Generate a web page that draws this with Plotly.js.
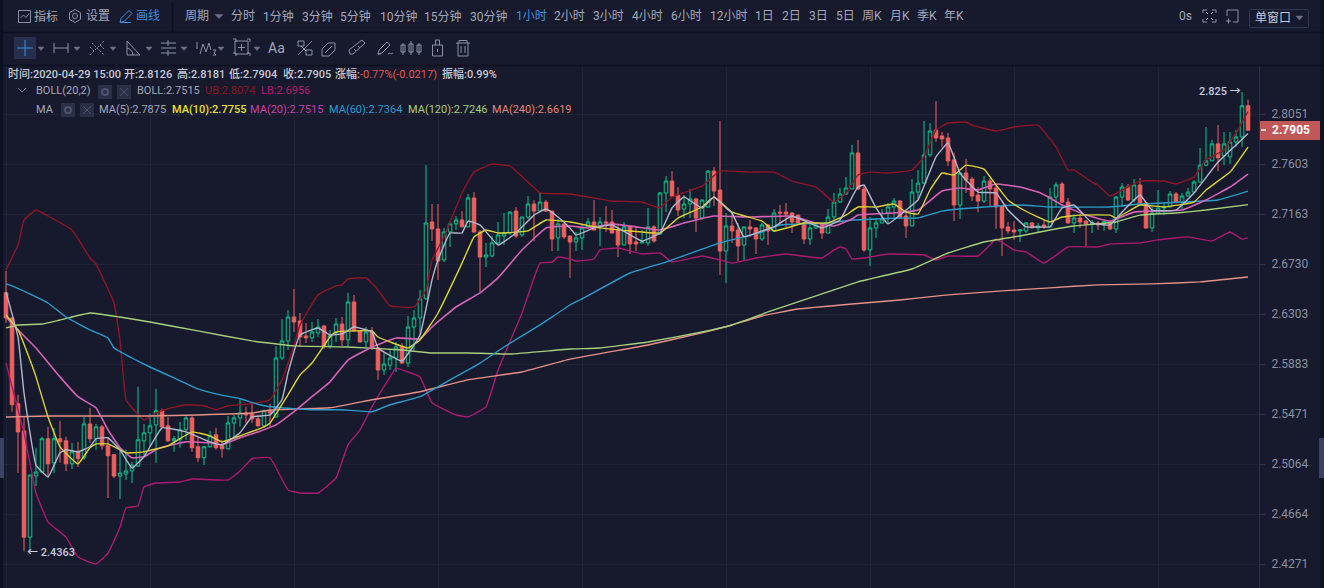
<!DOCTYPE html>
<html><head><meta charset="utf-8">
<script src="https://cdn.plot.ly/plotly-3.0.1.min.js"></script>
<style>html,body{margin:0;padding:0;background:#161a2c;overflow:hidden}#wrap{position:relative;width:1324px;height:588px}#chart{position:absolute;left:0;top:0;width:1324px;height:588px}#ov{position:absolute;left:0;top:0;pointer-events:none}</style>
</head><body><div id="wrap"><div id="chart"></div>
<svg id="ov" width="1324" height="588" fill="none" stroke="#8d91a8" stroke-width="1">
<g stroke="#0d1020"><path d="M0 32.5H1324M0 65.5H1324M172.5 3V32" stroke-width="1.5"/><path d="M1.5 0V588M1322 0V588" stroke-width="3"/></g>
<rect x="14" y="37" width="22" height="22" fill="#262f4d" stroke="none"/>
<path d="M25 40V56M17 48H33" stroke="#3f8fe0"/>
<path d="M18.5 10.5h12v12h-12zM20.5 18l3-3 2.5 2.5 3-4"/>
<path d="M75 9.5l5.5 3.2v6.6L75 22.5l-5.5-3.2v-6.6zM77.5 16a2.5 2.5 0 1 1-5 0 2.5 2.5 0 1 1 5 0"/>
<path d="M120 22.5l1-4 8-8 3 3-8 8zM120 22.5h11" stroke="#3f8fe0"/>
<g stroke="#6d7188" fill="#6d7188" stroke-width="0.5"><path d="M215 14.5h8l-4 4zM38 47h6l-3 3.500zM74 47h6l-3 3.500zM110 47h6l-3 3.500zM146 47h6l-3 3.500zM181 47h6l-3 3.500zM218 47h6l-3 3.500zM254 47h6l-3 3.500zM1296 16h7l-3.500 4z"/></g>
<path d="M54 43v10M54 48h14M68 43v10"/>
<path d="M90 55l14-14M94 51l-4-4M104 49l-4-4M92 43l12 12" stroke-dasharray="2 1.5"/>
<path d="M127 41v14h13zM127 48a8 8 0 0 1 6 7"/>
<path d="M161 43h15M161 48h15M161 53h15M168 40v6M168 50v6"/>
<path d="M197 42v7M200 54l3-10 3 8 3-9 2 7M213 50h3l-2 3 2 2h-3"/>
<path d="M235 41h13v13h-13zM241.500 44v7M238 47.500h7M233 39h3v3M247 39h3v3M233 53h3v3M247 53h3v3"/>
<path d="M298 41h6v5h-6zM306 50h6v5h-6zM298 55l14-14M301 46l5 5"/>
<path d="M322 49l6-6 7 0 0 7-6 6-7 0zM325 53l7-7"/>
<path d="M350 54l-1-4 13-10 3 3-12 11zM354 49l2 2M358 46l2 2"/>
<path d="M378 54l1-4 8-8 3 3-8 8zM378 54h3M388 54c2-2 3 1 5-1"/>
<path d="M403 43v12M401 45h4v7h-4zM411 41v14M409 44h4v8h-4zM419 43v12M417 45h4v7h-4z"/>
<path d="M432.500 45h10v11h-10zM435.500 45v-5h4v5M437.500 49v3"/>
<path d="M456 43h14M459 43v-2.500h8V43M458 43v13h10V43M461 46v7M465 46v7"/>
<path d="M1203 13v-3h4M1212 10h4v3M1216 19v3h-4M1207 22h-4v-3M1208 14l-2-2M1211 14l2-2M1208 18l-2 2M1211 18l2 2"/>
<path d="M1227 10h11v12h-5M1227 10v6M1226 21h5M1228.500 18.500v5"/>
<rect x="1249.500" y="9.500" width="59" height="18" rx="1" stroke="#2f3757"/>
<rect x="0" y="438" width="4" height="40" fill="#3a4163" stroke="none"/>
<rect x="1319" y="438" width="5" height="40" fill="#3a4163" stroke="none"/>
<path d="M18 88l4 4 4-4" stroke="#6d7188"/>
<g fill="#2a2f46" stroke="none"><rect x="98" y="85" width="14" height="14"/><rect x="117" y="85" width="14" height="14"/><rect x="61" y="103" width="14" height="14"/><rect x="80" y="103" width="14" height="14"/></g>
<g stroke="#4c5270"><path d="M120 88l8 8M128 88l-8 8M83 106l8 8M91 106l-8 8"/><circle cx="105" cy="92" r="3" stroke-width="2"/><circle cx="68" cy="110" r="3" stroke-width="2"/></g>
</svg></div>
<script>
const O=[2.6483,2.6270,2.5555,2.5333,2.4482,2.4968,2.5000,2.5269,2.5074,2.5269,2.5252,2.5066,2.5163,2.5115,2.5390,2.5269,2.5366,2.5212,2.5139,2.4968,2.4984,2.5008,2.5048,2.5252,2.5317,2.5382,2.5498,2.5374,2.5252,2.5261,2.5342,2.5439,2.5204,2.5115,2.5204,2.5301,2.5212,2.5188,2.5398,2.5439,2.5479,2.5471,2.5431,2.5374,2.5498,2.5447,2.5934,2.6077,2.6278,2.6245,2.6119,2.6102,2.6144,2.6203,2.6035,2.6144,2.6219,2.6085,2.6406,2.6161,2.6068,2.6152,2.6018,2.5834,2.5875,2.5934,2.6026,2.5892,2.6194,2.6270,2.6432,2.7094,2.7033,2.6765,2.7007,2.7077,2.7111,2.7051,2.7304,2.7007,2.6790,2.6799,2.6912,2.6972,2.6998,2.7189,2.6981,2.7137,2.7251,2.7189,2.7268,2.7189,2.6955,2.7077,2.6972,2.6920,2.6955,2.7051,2.7094,2.7051,2.7094,2.7094,2.7024,2.6894,2.7051,2.6920,2.6912,2.6912,2.7051,2.6990,2.7348,2.7453,2.7330,2.7207,2.7251,2.7295,2.7128,2.7225,2.7541,2.7374,2.6842,2.7059,2.7024,2.6894,2.7051,2.7042,2.6946,2.7068,2.7016,2.7180,2.7180,2.7172,2.7154,2.7085,2.6946,2.7042,2.7068,2.6998,2.7137,2.7268,2.7339,2.7383,2.7702,2.7383,2.6851,2.7042,2.7085,2.7172,2.7225,2.7277,2.7146,2.7059,2.7356,2.7435,2.7685,2.7907,2.7854,2.7836,2.7641,2.7242,2.7524,2.7471,2.7330,2.7277,2.7453,2.7392,2.7233,2.7051,2.7024,2.7016,2.7016,2.7085,2.7042,2.7068,2.7051,2.7312,2.7427,2.7268,2.7085,2.7128,2.7102,2.7077,2.7085,2.7085,2.7085,2.7033,2.7312,2.7400,2.7286,2.7418,2.7260,2.7042,2.7172,2.7216,2.7225,2.7339,2.7268,2.7321,2.7356,2.7444,2.7594,2.7632,2.7783,2.7676,2.7667,2.7800,2.7845,2.8126];
const H=[2.6670,2.6275,2.5629,2.5447,2.4980,2.5196,2.5285,2.5366,2.5358,2.5414,2.5285,2.5236,2.5244,2.5447,2.5522,2.5390,2.5382,2.5277,2.5142,2.5180,2.5180,2.5082,2.5695,2.5390,2.5473,2.5678,2.5514,2.5447,2.5293,2.5406,2.5455,2.5455,2.5277,2.5212,2.5334,2.5358,2.5261,2.5455,2.5463,2.5588,2.5531,2.5563,2.5463,2.5506,2.5555,2.6035,2.6261,2.6338,2.6517,2.6312,2.6228,2.6236,2.6261,2.6211,2.6169,2.6270,2.6278,2.6483,2.6466,2.6165,2.6194,2.6194,2.6026,2.5976,2.6009,2.6068,2.6060,2.6287,2.6338,2.6508,2.7594,2.7251,2.7251,2.7042,2.7102,2.7146,2.7189,2.7339,2.7356,2.7024,2.6912,2.6972,2.7094,2.7172,2.7189,2.7224,2.7137,2.7321,2.7286,2.7356,2.7286,2.7191,2.7120,2.7085,2.6974,2.7007,2.7068,2.7128,2.7286,2.7137,2.7233,2.7198,2.7077,2.7094,2.7068,2.7051,2.7024,2.7216,2.7068,2.7356,2.7497,2.7541,2.7400,2.7330,2.7383,2.7304,2.7288,2.7550,2.7576,2.7988,2.7172,2.7172,2.7085,2.7053,2.7111,2.7044,2.7085,2.7077,2.7207,2.7242,2.7260,2.7180,2.7156,2.7094,2.7094,2.7085,2.7070,2.7207,2.7348,2.7392,2.7488,2.7774,2.7818,2.7418,2.7137,2.7128,2.7207,2.7260,2.7304,2.7286,2.7172,2.7471,2.7550,2.7988,2.7970,2.8168,2.7889,2.7880,2.7703,2.7526,2.7650,2.7488,2.7400,2.7497,2.7480,2.7418,2.7242,2.7094,2.7102,2.7033,2.7094,2.7094,2.7085,2.7111,2.7392,2.7444,2.7444,2.7304,2.7163,2.7163,2.7111,2.7111,2.7102,2.7102,2.7094,2.7321,2.7435,2.7427,2.7471,2.7480,2.7268,2.7225,2.7374,2.7268,2.7365,2.7356,2.7348,2.7392,2.7462,2.7747,2.7934,2.7818,2.7952,2.7889,2.7889,2.7907,2.8250,2.8181];
const L=[2.6228,2.5490,2.4992,2.4370,2.4363,2.4888,2.4992,2.4960,2.4992,2.5074,2.5008,2.5024,2.5040,2.5099,2.5236,2.5180,2.5180,2.4792,2.4952,2.4784,2.4936,2.4912,2.5046,2.5123,2.5204,2.5074,2.5364,2.5244,2.5163,2.5196,2.5261,2.5163,2.5082,2.5056,2.5196,2.5180,2.5115,2.5180,2.5277,2.5366,2.5398,2.5398,2.5366,2.5358,2.5366,2.5440,2.5917,2.6001,2.6152,2.6026,2.6060,2.6068,2.6110,2.6009,2.6009,2.6068,2.6035,2.6026,2.6152,2.6064,2.6018,2.6001,2.5752,2.5793,2.5834,2.5818,2.5884,2.5859,2.6001,2.6110,2.6423,2.6929,2.6594,2.6747,2.6877,2.7024,2.7049,2.7049,2.7000,2.6491,2.6704,2.6788,2.6894,2.6894,2.6981,2.6955,2.6964,2.7120,2.6929,2.7180,2.7180,2.6842,2.6842,2.6946,2.6611,2.6842,2.6851,2.7042,2.7022,2.6886,2.7007,2.6996,2.6790,2.6892,2.6816,2.6842,2.6910,2.6886,2.6912,2.6981,2.7180,2.7312,2.7146,2.7128,2.7128,2.7007,2.7111,2.7216,2.7233,2.6636,2.6568,2.6912,2.6756,2.6765,2.6964,2.6816,2.6929,2.6894,2.7007,2.7068,2.7051,2.6998,2.7077,2.6903,2.6894,2.7033,2.6946,2.6996,2.7111,2.7260,2.7330,2.7381,2.7374,2.6834,2.6713,2.6955,2.7083,2.7085,2.7137,2.7128,2.6955,2.7057,2.7295,2.7427,2.7667,2.7800,2.7756,2.7585,2.7102,2.7120,2.7348,2.7277,2.7180,2.7260,2.7225,2.7033,2.6799,2.6990,2.6938,2.6920,2.6998,2.7040,2.6998,2.7033,2.7049,2.7225,2.7260,2.7083,2.6998,2.7042,2.6886,2.6998,2.7024,2.7016,2.7024,2.6998,2.7225,2.7277,2.7268,2.7258,2.7033,2.7007,2.7163,2.7154,2.7223,2.7260,2.7198,2.7319,2.7354,2.7442,2.7585,2.7630,2.7541,2.7594,2.7603,2.7756,2.7756,2.7904];
const C=[2.6270,2.5547,2.5325,2.4482,2.4976,2.5000,2.5269,2.5066,2.5269,2.5244,2.5066,2.5163,2.5107,2.5390,2.5269,2.5366,2.5212,2.5131,2.4968,2.4992,2.5008,2.5056,2.5261,2.5317,2.5374,2.5498,2.5366,2.5252,2.5269,2.5342,2.5439,2.5196,2.5115,2.5204,2.5293,2.5196,2.5188,2.5398,2.5439,2.5479,2.5463,2.5431,2.5374,2.5498,2.5479,2.5934,2.6077,2.6278,2.6236,2.6110,2.6102,2.6152,2.6194,2.6035,2.6119,2.6219,2.6085,2.6406,2.6161,2.6068,2.6152,2.6018,2.5834,2.5884,2.5934,2.6026,2.5892,2.6194,2.6270,2.6432,2.7085,2.7033,2.6756,2.7007,2.7077,2.7111,2.7051,2.7304,2.7007,2.6790,2.6808,2.6912,2.6981,2.6998,2.7180,2.6972,2.7137,2.7251,2.7189,2.7268,2.7189,2.6946,2.7077,2.6964,2.6920,2.6955,2.7042,2.7094,2.7024,2.7094,2.7085,2.6998,2.6894,2.7051,2.6903,2.6903,2.6920,2.7051,2.6929,2.7348,2.7453,2.7321,2.7198,2.7251,2.7295,2.7128,2.7286,2.7541,2.7365,2.6842,2.7059,2.7016,2.6886,2.7051,2.7033,2.6946,2.7068,2.7016,2.7172,2.7172,2.7163,2.7094,2.7085,2.6946,2.7042,2.7068,2.6998,2.7137,2.7268,2.7339,2.7392,2.7702,2.7383,2.6851,2.7042,2.7085,2.7120,2.7225,2.7277,2.7137,2.7059,2.7356,2.7435,2.7685,2.7898,2.7836,2.7827,2.7632,2.7242,2.7524,2.7462,2.7321,2.7277,2.7453,2.7383,2.7225,2.7042,2.7016,2.7007,2.7024,2.7085,2.7042,2.7059,2.7051,2.7312,2.7418,2.7268,2.7085,2.7128,2.7094,2.7077,2.7085,2.7068,2.7094,2.7033,2.7312,2.7400,2.7286,2.7418,2.7260,2.7042,2.7172,2.7216,2.7225,2.7339,2.7268,2.7321,2.7356,2.7444,2.7594,2.7632,2.7783,2.7659,2.7783,2.7800,2.7845,2.8126,2.7905];
const candleIdx=O.map((_,i)=>i);

const ma5Idx=[0,2,3,5,7,9,10,12,14,15,17,19,21,23,26,30,34,36,39,41,44,46,47,49,52,54,56,58,61,62,66,69,71,72,74,76,77,79,82,85,88,90,92,94,95,98,101,106,109,111,113,116,118,120,121,123,126,128,131,136,139,141,142,143,145,147,150,152,155,157,159,162,165,167,170,172,174,176,178,181,184,186,189,191,195,198,202,205,207];
const ma5=[2.6491,2.6110,2.5645,2.5056,2.4960,2.5155,2.5180,2.5163,2.5204,2.5269,2.5277,2.5180,2.5032,2.5123,2.5358,2.5325,2.5244,2.5220,2.5317,2.5447,2.5463,2.5588,2.5809,2.6127,2.6186,2.6127,2.6136,2.6194,2.6152,2.6018,2.5909,2.6127,2.6594,2.6765,2.6998,2.6998,2.7102,2.7068,2.6894,2.6998,2.7154,2.7207,2.7137,2.7042,2.6981,2.7042,2.7068,2.6929,2.6998,2.7216,2.7312,2.7216,2.7312,2.7216,2.7172,2.6964,2.7016,2.7051,2.7146,2.7042,2.7111,2.7312,2.7400,2.7418,2.7216,2.7077,2.7198,2.7286,2.7667,2.7791,2.7524,2.7356,2.7348,2.7198,2.7051,2.7051,2.7051,2.7216,2.7242,2.7085,2.7068,2.7180,2.7330,2.7198,2.7198,2.7348,2.7621,2.7774,2.7875];

const ma10Idx=[0,2,4,5,7,9,12,14,15,17,20,21,23,27,31,34,36,39,43,44,47,49,51,54,55,61,62,67,69,72,76,78,80,82,87,90,94,99,104,109,112,116,118,121,126,128,133,137,140,142,145,148,150,152,154,156,158,160,163,165,167,169,172,174,176,179,184,185,189,193,198,200,204,207];
const ma10=[2.6295,2.6169,2.5917,2.5777,2.5447,2.5204,2.5066,2.5196,2.5228,2.5228,2.5155,2.5155,2.5163,2.5212,2.5325,2.5293,2.5244,2.5293,2.5366,2.5398,2.5629,2.5793,2.5892,2.6110,2.6152,2.6161,2.6110,2.6018,2.6085,2.6312,2.6738,2.6964,2.7024,2.6998,2.7016,2.7111,2.7094,2.7042,2.7016,2.6998,2.7128,2.7225,2.7312,2.7180,2.7102,2.7016,2.7085,2.7085,2.7154,2.7225,2.7225,2.7251,2.7180,2.7163,2.7374,2.7524,2.7506,2.7594,2.7559,2.7418,2.7286,2.7216,2.7137,2.7094,2.7137,2.7154,2.7154,2.7128,2.7242,2.7225,2.7268,2.7374,2.7532,2.7755];

const ma20Idx=[0,2,5,9,12,15,17,19,21,23,25,27,30,34,36,39,42,45,48,51,54,57,61,65,69,71,75,79,82,86,90,94,97,101,105,109,113,118,124,131,135,138,141,142,148,152,156,159,162,165,169,172,174,176,180,184,188,191,196,200,204,207];
const ma20=[2.6278,2.6169,2.6018,2.5777,2.5613,2.5522,2.5341,2.5196,2.5115,2.5123,2.5180,2.5212,2.5244,2.5236,2.5220,2.5277,2.5325,2.5382,2.5490,2.5613,2.5736,2.5917,2.6026,2.6102,2.6094,2.6194,2.6363,2.6483,2.6611,2.6851,2.7042,2.7059,2.7042,2.7077,2.7051,2.7024,2.7085,2.7146,2.7137,2.7146,2.7085,2.7059,2.7120,2.7154,2.7172,2.7198,2.7365,2.7392,2.7374,2.7427,2.7400,2.7356,2.7304,2.7242,2.7154,2.7102,2.7180,2.7189,2.7198,2.7286,2.7400,2.7515];

const ma60Idx=[0,1,5,7,10,14,17,18,21,24,28,32,35,39,43,48,51,56,61,64,69,74,79,83,89,94,96,104,110,119,126,129,137,141,149,152,156,163,169,174,184,189,202,207];
const ma60=[2.6560,2.6543,2.6449,2.6397,2.6278,2.6169,2.6102,2.6018,2.5934,2.5859,2.5768,2.5678,2.5637,2.5596,2.5539,2.5514,2.5506,2.5506,2.5490,2.5547,2.5613,2.5752,2.5892,2.6026,2.6211,2.6380,2.6432,2.6653,2.6747,2.6912,2.7007,2.7068,2.7085,2.7111,2.7128,2.7128,2.7189,2.7225,2.7242,2.7225,2.7225,2.7251,2.7286,2.7364];

const ma120Idx=[0,2,6,9,14,19,24,32,41,48,57,66,71,77,84,94,99,107,116,121,127,134,142,144,151,157,163,169,174,178,185,189,195,200,207];
const ma120=[2.6186,2.6211,2.6219,2.6253,2.6312,2.6278,2.6236,2.6161,2.6077,2.6035,2.6026,2.6001,2.5976,2.5976,2.5967,2.6009,2.6018,2.6068,2.6152,2.6211,2.6321,2.6440,2.6577,2.6602,2.6687,2.6825,2.6920,2.6972,2.7024,2.7059,2.7094,2.7154,2.7172,2.7198,2.7246];

const ma240Idx=[0,7,16,24,32,41,44,54,61,69,77,86,94,107,116,121,126,132,141,149,157,166,174,182,191,199,207];
const ma240=[2.5447,2.5455,2.5455,2.5455,2.5463,2.5479,2.5504,2.5522,2.5588,2.5654,2.5752,2.5818,2.5925,2.6043,2.6144,2.6211,2.6287,2.6346,2.6389,2.6423,2.6466,2.6500,2.6526,2.6551,2.6560,2.6577,2.6619];

const ubIdx=[0,2,3,5,7,11,14,15,18,19,20,21,23,25,27,30,33,35,37,41,44,46,48,49,52,55,56,57,60,62,64,68,70,71,73,76,78,81,84,87,89,94,98,101,106,109,111,116,119,124,128,131,135,138,140,142,144,147,151,153,155,157,160,161,165,168,172,175,177,178,181,182,184,187,189,193,195,198,200,203,205,207];
const ub=[2.6679,2.6894,2.7111,2.7198,2.7146,2.7024,2.6782,2.6730,2.6397,2.6085,2.5588,2.5522,2.5422,2.5479,2.5514,2.5547,2.5539,2.5506,2.5539,2.5555,2.5588,2.5752,2.6043,2.6211,2.6466,2.6543,2.6551,2.6602,2.6611,2.6508,2.6372,2.6363,2.6508,2.6765,2.6964,2.7348,2.7532,2.7603,2.7585,2.7444,2.7348,2.7339,2.7304,2.7277,2.7268,2.7216,2.7312,2.7409,2.7541,2.7532,2.7532,2.7453,2.7400,2.7268,2.7348,2.7506,2.7532,2.7524,2.7550,2.7667,2.7907,2.7970,2.7979,2.7952,2.7898,2.7934,2.7952,2.7756,2.7550,2.7550,2.7444,2.7418,2.7321,2.7400,2.7453,2.7453,2.7427,2.7488,2.7641,2.7729,2.7880,2.8074];

const lbIdx=[0,1,3,5,7,10,12,15,17,19,20,22,23,25,29,31,37,39,41,44,47,49,52,55,57,59,61,64,65,67,69,71,75,77,80,82,86,89,91,92,94,95,98,99,102,106,109,111,116,119,121,125,130,136,138,139,140,141,143,147,153,155,157,162,164,165,168,170,173,177,182,184,189,192,197,201,204,206,207];
const lb=[2.5892,2.5695,2.5317,2.4832,2.4601,2.4482,2.4326,2.4271,2.4356,2.4562,2.4712,2.4728,2.4880,2.4912,2.4920,2.4944,2.4936,2.5008,2.5107,2.5115,2.4856,2.4832,2.4832,2.4952,2.5220,2.5341,2.5531,2.5777,2.5850,2.5818,2.5777,2.5563,2.5463,2.5447,2.5531,2.5834,2.6312,2.6738,2.6747,2.6790,2.6773,2.6756,2.6773,2.6851,2.6868,2.6816,2.6825,2.6747,2.6799,2.6765,2.6738,2.6782,2.6816,2.6782,2.6851,2.6877,2.6860,2.6773,2.6782,2.6816,2.6808,2.6765,2.6799,2.6799,2.6894,2.6946,2.6851,2.6834,2.6738,2.6877,2.6877,2.6903,2.6912,2.6938,2.6964,2.6929,2.7007,2.6945,2.6956];

const priceTicks=[2.8051,2.7603,2.7163,2.6730,2.6303,2.5883,2.5471,2.5064,2.4664,2.4271];
const priceTickLabels=['2.8051','2.7603','2.7163','2.6730','2.6303','2.5883','2.5471','2.5064','2.4664','2.4271'];
const dayTicks=[0,24,48,72,96,120,144,168,192];

const periods=['分时','1分钟','3分钟','5分钟','10分钟','15分钟','30分钟','1小时','2小时','3小时','4小时','6小时','12小时','1日','2日','3日','5日','周K','月K','季K','年K'];
const periodX=[231,263,302,340,380,424,470,516,554,593,632,671,710,755,782,809,836,862,890,917,944];

const W=1259,Ht=522,Tp=66;
const FF="Roboto,'Noto Sans CJK SC',sans-serif";
function ann(text,px,py,color,size,weight,anchor){return {text:text,xref:'paper',yref:'paper',x:px/W,y:(Ht+Tp-py)/Ht,xanchor:anchor||'left',yanchor:'middle',showarrow:false,borderpad:0,borderwidth:0,
 font:{family:FF,size:size||12,color:color,weight:weight||400}};}
const T='#a3a7bc',INF='#c6c9da';
const anns=[
 ann('指标',34,16,T,12),ann('设置',86,16,T,12),ann('画线',136,16,'#3f8fe0',12),ann('周期',185,16,T,12),
 ann('0s',1179,16,T,12),ann('单窗口',1255,18,'#c6c9da',12),ann('Aa',268,48,T,14),
 ann('时间:2020-04-29 15:00',8,74,INF,11,500),ann('开:2.8126',124,74,INF,11,500),ann('高:2.8181',177,74,INF,11,500),ann('低:2.7904',229,74,INF,11,500),ann('收:2.7905',283,74,INF,11,500),ann('涨幅:',335,74,INF,11,500),ann('-0.77%(-0.0217)',360,74,'#e0555a',11),ann('振幅:0.99%',442,74,INF,11,500),
 ann('BOLL(20,2)',36,91,T,11),ann('BOLL:2.7515',137,91,T,11),ann('UB:2.8074',205,91,'#8a1528',11),ann('LB:2.6956',261,91,'#b01a72',11),
 ann('MA',36,109,T,11),ann('MA(5):2.7875',99,109,T,11),ann('MA(10):2.7755',172,109,'#e8e030',11,500),ann('MA(20):2.7515',250,109,'#c940a8',11),ann('MA(60):2.7364',329,109,'#2b9bcb',11),ann('MA(120):2.7246',408,109,'#a8cf7c',11),ann('MA(240):2.6619',492,109,'#e0857f',11),
 ann('2.825 →',1199,92,INF,11,500),ann('← 2.4363',27,552,INF,11,500),
 ann('2.7905',1272,130,'#ffffff',12,700)
];
periods.forEach((p,i)=>anns.push(ann(p,periodX[i],16,p==='1小时'?'#3f8fe0':T,12)));

const line=(n,x,y,c,w)=>({type:'scatter',mode:'lines',name:n,x:x,y:y,line:{color:c,width:w||1.4,shape:'spline',smoothing:0.3},hoverinfo:'skip'});
const data=[
 {type:'candlestick',x:candleIdx,open:O,high:H,low:L,close:C,whiskerwidth:0,hoverinfo:'skip',
  increasing:{line:{color:'#0cc48c',width:1},fillcolor:'#161a2c'},
  decreasing:{line:{color:'#ee6060',width:1},fillcolor:'#ee6060'}},
 line('UB',ubIdx,ub,'#8f1528'),line('LB',lbIdx,lb,'#ab1a70'),
 line('MA240',ma240Idx,ma240,'#e59088'),line('MA120',ma120Idx,ma120,'#a8cf7c'),line('MA60',ma60Idx,ma60,'#2b9bcb'),
 line('MA20',ma20Idx,ma20,'#d663b6',1.6),line('MA10',ma10Idx,ma10,'#dcd334'),line('MA5',ma5Idx,ma5,'#b3b7cb')
];
const layout={width:1324,height:588,margin:{l:0,r:65,t:66,b:0,pad:0},paper_bgcolor:'#161a2c',plot_bgcolor:'#161a2c',showlegend:false,boxgap:0.15,
 xaxis:{type:'linear',range:[-1,208.83],tickmode:'array',tickvals:dayTicks,showticklabels:false,ticks:'',showgrid:true,gridcolor:'#1f2336',gridwidth:1,zeroline:false,showline:false,rangeslider:{visible:false},fixedrange:true},
 yaxis:{type:'log',side:'right',range:[0.38174,0.45466],tickmode:'array',tickvals:priceTicks,ticktext:priceTickLabels,ticks:'outside',ticklen:5,tickcolor:'#2e3349',ticklabelstandoff:4,
  tickfont:{family:FF,size:12,color:'#8b8fa6'},showgrid:true,gridcolor:'#1f2336',gridwidth:1,zeroline:false,showline:true,linecolor:'#2e3349',linewidth:1,fixedrange:true},
 annotations:anns,
 shapes:[
  {type:'rect',xref:'paper',yref:'paper',x0:1,x1:1320/W,y0:(Ht+Tp-140)/Ht,y1:(Ht+Tp-121)/Ht,fillcolor:'#c25757',line:{width:0},layer:'below'},
  {type:'line',xref:'paper',yref:'paper',x0:1261/W,x1:1266/W,y0:(Ht+Tp-130)/Ht,y1:(Ht+Tp-130)/Ht,line:{color:'#ffffff',width:1.5}}
 ]};
Plotly.newPlot('chart',data,layout,{staticPlot:true,displayModeBar:false});
</script></body></html>
